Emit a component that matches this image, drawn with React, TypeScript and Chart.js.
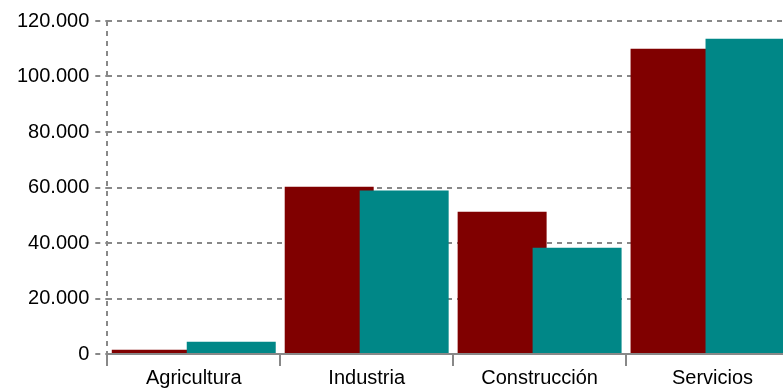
import React, { useEffect, useRef } from 'react';
import { Chart, registerables } from 'chart.js';

Chart.register(...registerables);

const categories = ['Agricultura', 'Industria', 'Construcción', 'Servicios'];
const seriesRed = [1550, 60300, 51300, 110000];
const seriesTeal = [4400, 58900, 38300, 113600];
const yMin = 0;
const yMax = 120000;
const yStep = 20000;

const fmt = (v: number) => String(Math.round(v)).replace(/\B(?=(\d{3})+(?!\d))/g, '.');

const drawOrderPlugin = {
  id: 'forwardDrawOrder',
  beforeDatasetsDraw(chart: any) {
    const metas = chart.getSortedVisibleDatasetMetas();
    const ctx = chart.ctx;
    const area = chart.chartArea;
    ctx.save();
    ctx.beginPath();
    ctx.rect(area.left, 0, area.right - area.left, area.bottom);
    ctx.clip();
    for (let i = 0; i < metas.length; i++) {
      metas[i].controller.draw();
    }
    ctx.restore();
    return false;
  },
};

export default function App() {
  const ref = useRef<HTMLCanvasElement>(null);
  useEffect(() => {
    if (!ref.current) return;
    const gray = '#888888';
    const font = { family: '"Liberation Sans", Arial, sans-serif', size: 20 };
    const chart = new Chart(ref.current, {
      type: 'bar',
      data: {
        labels: categories,
        datasets: [
          { data: seriesRed, backgroundColor: '#800000', borderWidth: 0 },
          { data: seriesTeal, backgroundColor: '#008787', borderWidth: 0 },
        ],
      },
      options: {
        animation: false,
        responsive: false,
        devicePixelRatio: 1,
        categoryPercentage: 0.867,
        barPercentage: 1.187,
        layout: { padding: { left: 11, top: 21, right: 1, bottom: 0 } },
        plugins: { legend: { display: false }, tooltip: { enabled: false } },
        scales: {
          x: {
            offset: true,
            grid: {
              display: true,
              drawOnChartArea: true,
              color: (c: any) => (c.index === 0 ? gray : 'rgba(0,0,0,0)'),
              lineWidth: 2,
              drawTicks: true,
              tickLength: 12,
              tickColor: gray,
              tickWidth: 2,
              tickBorderDash: [],
              offset: true,
            },
            border: { display: true, color: gray, width: 2, dash: [5, 5] },
            ticks: { color: '#000', font, padding: 0, maxRotation: 0 },
          },
          y: {
            min: yMin,
            max: yMax,
            grid: {
              color: gray,
              lineWidth: 2,
              tickLength: 12,
              tickColor: gray,
              tickWidth: 2,
              tickBorderDash: [5, 5],
            },
            border: { display: false, dash: [5, 5] },
            ticks: {
              stepSize: yStep,
              color: '#000',
              font,
              padding: 6,
              callback: (v: any) => fmt(Number(v)),
            },
          },
        },
      },
      plugins: [drawOrderPlugin],
    } as any);
    return () => chart.destroy();
  }, []);
  return (
    <div style={{ position: 'fixed', left: 0, top: 0, width: 783, height: 390, overflow: 'hidden', background: '#fff' }}>
      <canvas ref={ref} width={800} height={390} style={{ display: 'block' }} />
    </div>
  );
}
